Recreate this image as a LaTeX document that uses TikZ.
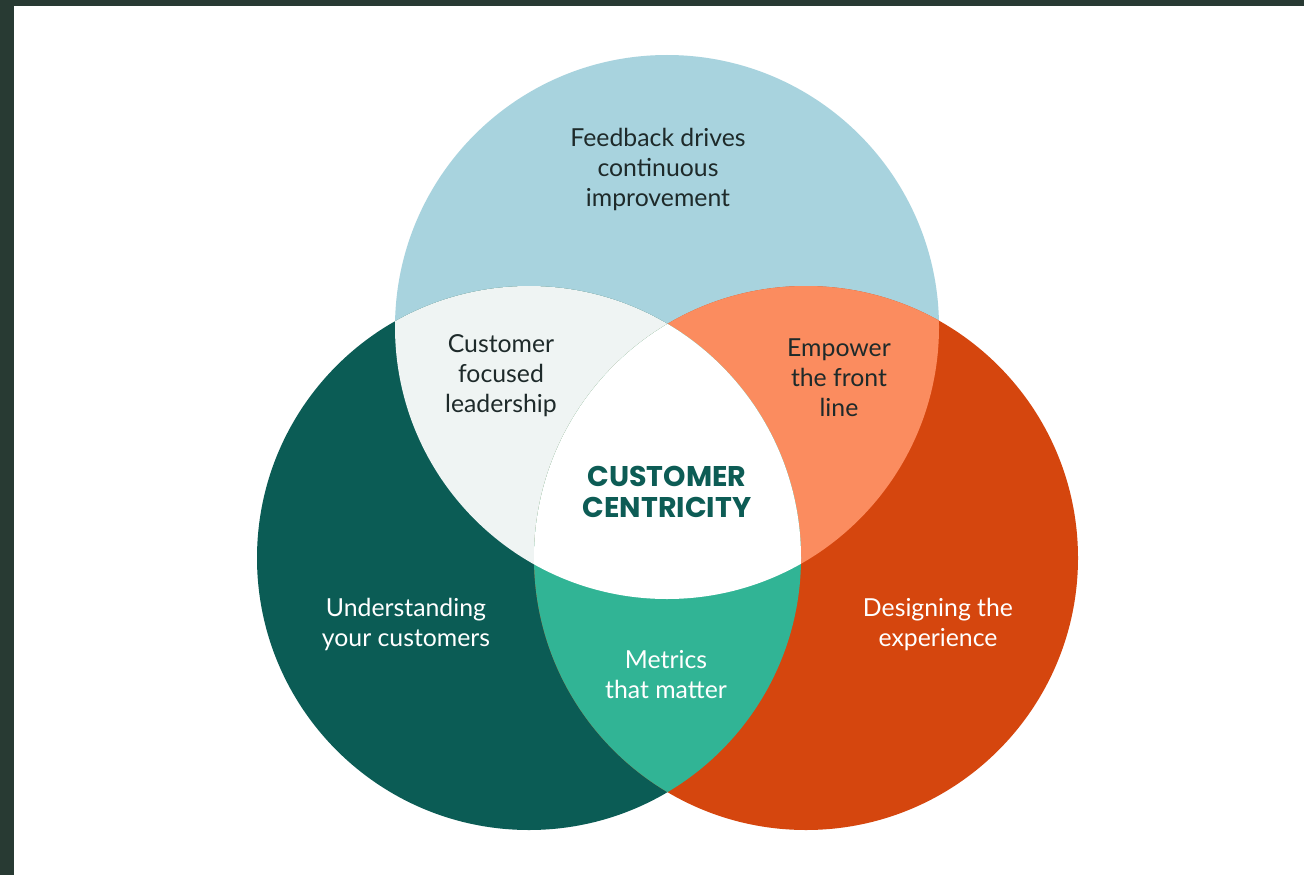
\documentclass[tikz,border=0pt]{standalone}
\usepackage{fontspec}
\setmainfont{Lato}
\newfontfamily\popfont{Poppins}
\definecolor{frame}{HTML}{283A33}
\definecolor{topc}{HTML}{A8D3DE}
\definecolor{leftc}{HTML}{0B5C55}
\definecolor{rightc}{HTML}{D5460E}
\definecolor{tlc}{HTML}{EFF4F3}
\definecolor{trc}{HTML}{FB8C5F}
\definecolor{botc}{HTML}{31B495}
\definecolor{darktext}{HTML}{1E2A2A}
\definecolor{titlec}{HTML}{0D5C55}
\tikzset{
  lbl/.style={inner sep=0pt, align=center, font=\fontsize{24.8}{30}\selectfont},
  darklbl/.style={lbl, text=darktext},
  lightlbl/.style={lbl, text=white},
  titlelbl/.style={inner sep=0pt, align=center, text=titlec, font=\popfont\bfseries\fontsize{28.5}{31}\selectfont}
}
\begin{document}
\begin{tikzpicture}[x=1pt,y=-1pt]
\useasboundingbox (0,0) rectangle (1304,875);
\fill[frame] (0,0) rectangle (1304,875);
\fill[white] (14,6) rectangle (1304,875);
\def\R{272}
\coordinate (ct) at (667,327);
\coordinate (cl) at (529,558);
\coordinate (cr) at (806,558);
\fill[topc] (ct) circle[radius=\R];
\fill[leftc] (cl) circle[radius=\R];
\fill[rightc] (cr) circle[radius=\R];
\begin{scope}
  \clip (ct) circle[radius=\R];
  \fill[tlc] (cl) circle[radius=\R];
  \fill[trc] (cr) circle[radius=\R];
\end{scope}
\begin{scope}
  \clip (cl) circle[radius=\R];
  \fill[botc] (cr) circle[radius=\R];
\end{scope}
\begin{scope}
  \clip (ct) circle[radius=\R];
  \clip (cl) circle[radius=\R];
  \fill[white] (cr) circle[radius=\R];
\end{scope}
\node[darklbl] (feedback) at (658,169) {Feedback drives\\continuous\\improvement};
\node[darklbl] (leader) at (501,376) {Customer\\focused\\leadership};
\node[darklbl] (empower) at (839,378) {Empower\\the front\\line};
\node[titlelbl] (centre) at (667,492) {CUSTOMER\\CENTRICITY};
\node[lightlbl] (understand) at (406,624) {Understanding\\your customers};
\node[lightlbl] (design) at (938,624) {Designing the\\experience};
\node[lightlbl] (metrics) at (666,675) {Metrics\\that matter};
\end{tikzpicture}
\end{document}
